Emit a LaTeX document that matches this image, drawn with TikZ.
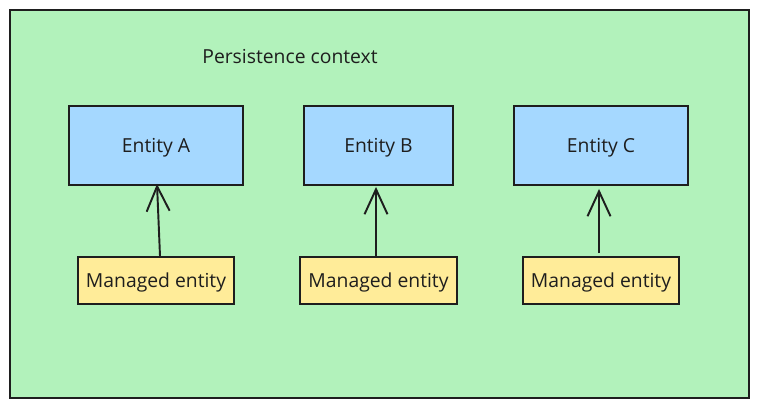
\documentclass[tikz,border=0pt]{standalone}
\usepackage{fontspec}
\setmainfont{Open Sans}
\usetikzlibrary{arrows.meta,positioning}

\definecolor{ctxgreen}{HTML}{B2F2BB}
\definecolor{entblue}{HTML}{A5D8FF}
\definecolor{mgdyellow}{HTML}{FFEC99}
\definecolor{inkline}{HTML}{1E1E1E}

\begin{document}
\begin{tikzpicture}[x=0.02cm, y=-0.02cm, line width=1.1pt, draw=inkline,
  font=\fontsize{11}{13}\selectfont, text=inkline,
  entitybox/.style={rectangle, draw=inkline, fill=entblue, minimum height=1.58cm, text depth=0pt},
  managedbox/.style={rectangle, draw=inkline, fill=mgdyellow, minimum width=3.13cm, minimum height=0.94cm, text depth=0pt},
  manages/.style={-{Straight Barb[length=0.5cm, width=0.46cm]}, inkline}]
\useasboundingbox (0,0) rectangle (759,408);

% Persistence context
\node[rectangle, draw=inkline, fill=ctxgreen, minimum width=14.78cm, minimum height=7.76cm] (ctx) at (379.5,204) {};
\node[text depth=0pt] (ctxlabel) at (290,56) {Persistence context};

% Entities
\node[entitybox, minimum width=3.48cm] (entA) at (156,145.5) {Entity A};
\node[entitybox, minimum width=2.98cm] (entB) at (378.5,145.5) {Entity B};
\node[entitybox, minimum width=3.48cm] (entC) at (601,145.5) {Entity C};

% Managed entities
\node[managedbox] (mgdA) at (156,280.5) {Managed entity};
\node[managedbox] (mgdB) at (378.5,280.5) {Managed entity};
\node[managedbox] (mgdC) at (601,280.5) {Managed entity};

% Arrows
\draw[manages] ([xshift=0.08cm]mgdA.north) -- ([xshift=0.02cm, yshift=0.04cm]entA.south);
\draw[manages] ([xshift=-0.05cm]mgdB.north) -- ([xshift=-0.05cm, yshift=-0.02cm]entB.south);
\draw[manages] ([xshift=-0.04cm, yshift=0.06cm]mgdC.north) -- ([xshift=-0.04cm, yshift=-0.06cm]entC.south);
\end{tikzpicture}
\end{document}
